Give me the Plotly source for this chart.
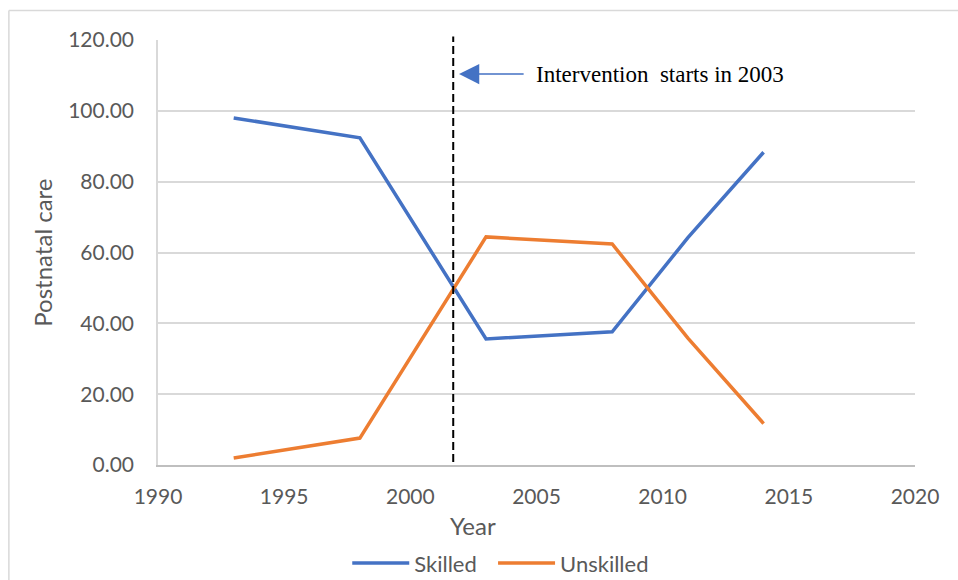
import plotly.graph_objects as go

# Survey years and share of postnatal care by provider type
years = [1993, 1998, 2003, 2008, 2011, 2014]
skilled = [98.0, 92.4, 35.6, 37.6, 64.2, 88.3]
unskilled = [2.0, 7.6, 64.4, 62.4, 35.8, 11.7]
series_names = ["Skilled\u00a0\u00a0", "Unskilled"]

x_ticks = [1990, 1995, 2000, 2005, 2010, 2015, 2020]
y_ticks = [0, 20, 40, 60, 80, 100, 120]

intervention_x = 2001.7
note_text = "Intervention\u00a0 starts in 2003"

BLUE = "#4472C4"
ORANGE = "#ED7D31"
TEXT = "#595959"
GRID = "#D9D9D9"
FONT = "Lato, 'Open Sans', sans-serif"

fig = go.Figure()
fig.add_trace(go.Scatter(x=years, y=skilled, mode="lines", name=series_names[0],
                         line=dict(color=BLUE, width=3.5)))
fig.add_trace(go.Scatter(x=years, y=unskilled, mode="lines", name=series_names[1],
                         line=dict(color=ORANGE, width=3.5)))

# Dashed marker for the intervention year
fig.add_shape(type="line", xref="x", yref="paper",
              x0=intervention_x, x1=intervention_x, y0=0.007, y1=1.008,
              line=dict(color="black", width=2, dash="8px,4px"))

# Arrow pointing at the marker and its note
fig.add_annotation(x=2001.93, y=110.4, ax=2004.55, ay=110.4,
                   xref="x", yref="y", axref="x", ayref="y",
                   text="", showarrow=True, arrowhead=2, arrowsize=2.7,
                   arrowwidth=1.5, arrowcolor=BLUE, standoff=0)
fig.add_annotation(x=2004.9, y=110.4, xref="x", yref="y",
                   text=note_text, showarrow=False, xanchor="left",
                   yanchor="middle",
                   font=dict(family="'Liberation Serif', 'Times New Roman', serif",
                             size=23, color="black"))

# Axis titles
fig.add_annotation(x=0.416, y=-0.142, xref="paper", yref="paper",
                   text="Year", showarrow=False, xanchor="center",
                   yanchor="middle", font=dict(family=FONT, size=24, color=TEXT))
fig.add_annotation(x=-0.153, y=0.5, xref="paper", yref="paper",
                   text="Postnatal care", showarrow=False, textangle=-90,
                   xanchor="center", yanchor="middle",
                   font=dict(family=FONT, size=24, color=TEXT))

# Chart frame (top and left edges)
fig.add_shape(type="line", xref="paper", yref="paper",
              x0=-0.197, x1=1.1, y0=1.0695, y1=1.0695,
              line=dict(color="#D9D9D9", width=1.5))
fig.add_shape(type="line", xref="paper", yref="paper",
              x0=-0.197, x1=-0.197, y0=-0.4, y1=1.0695,
              line=dict(color="#D9D9D9", width=1.5))

fig.update_layout(
    width=958, height=580,
    margin=dict(l=158, r=43, t=40, b=115, autoexpand=False),
    paper_bgcolor="white", plot_bgcolor="white",
    font=dict(family=FONT, size=21, color=TEXT),
    showlegend=True,
    legend=dict(orientation="h", x=0.25, xanchor="left", y=-0.231,
                yanchor="middle", font=dict(family=FONT, size=22, color=TEXT),
                itemwidth=57),
)
fig.update_xaxes(range=[1990, 2020], tickvals=x_ticks,
                 showgrid=False, showline=True, linecolor="#BFBFBF",
                 linewidth=1.5, ticks="", ticklabelstandoff=12,
                 zeroline=False, tickfont=dict(family=FONT, size=21, color=TEXT))
fig.update_yaxes(range=[0, 120], tickvals=y_ticks, tickformat=".2f",
                 showgrid=True, gridcolor=GRID, gridwidth=1.5,
                 showline=True, linecolor=GRID, linewidth=1.5,
                 ticks="", ticklabelstandoff=18, zeroline=False,
                 tickfont=dict(family=FONT, size=21, color=TEXT))

fig.write_html("out.html")
